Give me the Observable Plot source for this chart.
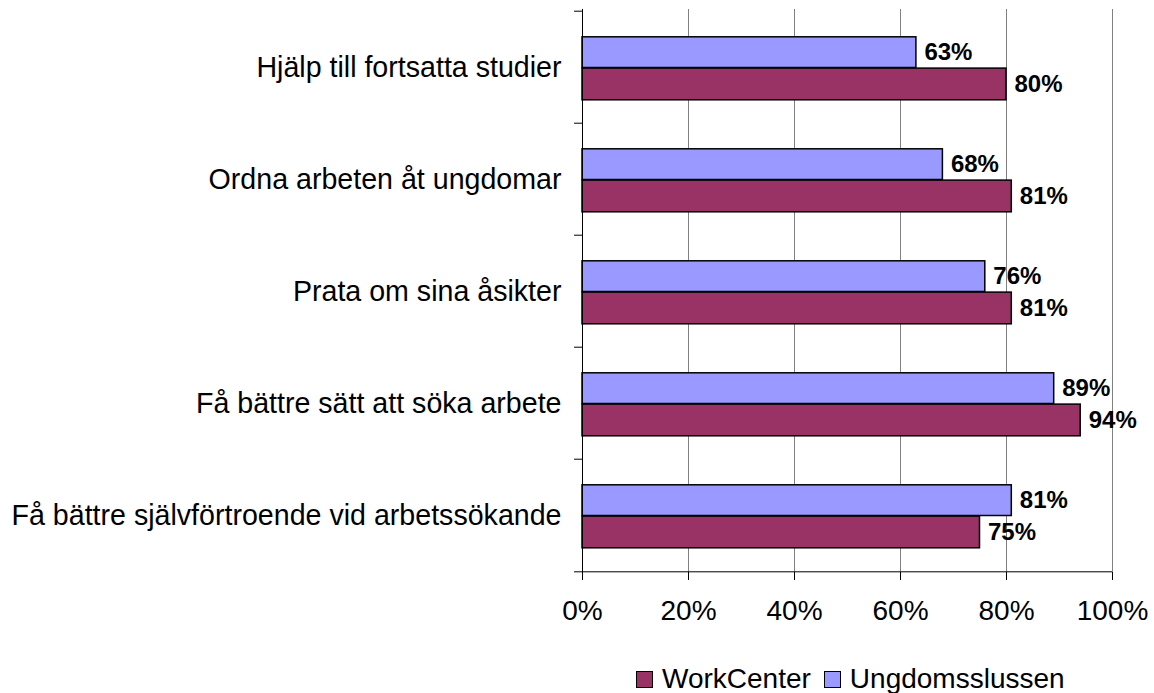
<!DOCTYPE html>
<html>
<head>
<meta charset="utf-8">
<script src="https://cdn.jsdelivr.net/npm/d3@7"></script>
<script src="https://cdn.jsdelivr.net/npm/@observablehq/plot@0.6"></script>
<style>
  html, body { margin: 0; padding: 0; background: #fff; }
  body { width: 1154px; height: 693px; position: relative; overflow: hidden; font-family: "Liberation Sans", Arial, sans-serif; }
  #legend { position: absolute; top: 663px; left: 636px; display: flex; align-items: center; font-size: 28px; white-space: nowrap; color: #000; }
  .sw { width: 15px; height: 15px; border: 1.5px solid #000; display: inline-block; margin-right: 9px; }
  .item { display: flex; align-items: center; margin-right: 13px; }
</style>
</head>
<body>
<div id="chart"></div>
<div id="legend"></div>
<script>
const categories = [
  "Hjälp till fortsatta studier",
  "Ordna arbeten åt ungdomar",
  "Prata om sina åsikter",
  "Få bättre sätt att söka arbete",
  "Få bättre självförtroende vid arbetssökande"
];
const seriesNames = ["WorkCenter", "Ungdomsslussen"];
const workCenter = [80, 81, 81, 94, 75];
const ungdomsslussen = [63, 68, 76, 89, 81];
const xTicks = [0, 0.2, 0.4, 0.6, 0.8, 1];
const colors = {"WorkCenter": "#993366", "Ungdomsslussen": "#9999FF"};

const rowsU = categories.map((c, i) => ({category: c, series: "Ungdomsslussen", value: ungdomsslussen[i]}));
const rowsW = categories.map((c, i) => ({category: c, series: "WorkCenter", value: workCenter[i]}));

const W = 1154, H = 640, mt = 9, mb = 68, ml = 582, mr = 42;
const step = (H - mt - mb) / categories.length;
const half = step / 2;
const font = "'Liberation Sans', Arial, sans-serif";

const chart = Plot.plot({
  width: W, height: H,
  marginTop: mt, marginBottom: mb, marginLeft: ml, marginRight: mr,
  style: {fontFamily: font, fontSize: "28px", color: "#000", background: "#fff"},
  x: {domain: [0, 1]},
  y: {domain: categories, padding: 0},
  marks: [
    Plot.gridX(xTicks.slice(1), {stroke: "#808080", strokeOpacity: 1, strokeWidth: 1}),
    Plot.barX(rowsU, {x: d => d.value / 100, y: "category", fill: colors["Ungdomsslussen"], stroke: "#000", strokeWidth: 1.5, insetTop: 25.8, insetBottom: step - 57.1}),
    Plot.barX(rowsW, {x: d => d.value / 100, y: "category", fill: colors["WorkCenter"], stroke: "#000", strokeWidth: 1.5, insetTop: 57.1, insetBottom: step - 89.4}),
    Plot.text(rowsU, {x: d => d.value / 100, y: "category", text: d => d.value + "%", dx: 8, dy: (25.8 + 57.1) / 2 - half, textAnchor: "start", fontWeight: "bold", fontSize: 24, fill: "#000"}),
    Plot.text(rowsW, {x: d => d.value / 100, y: "category", text: d => d.value + "%", dx: 8, dy: (57.1 + 89.4) / 2 - half, textAnchor: "start", fontWeight: "bold", fontSize: 24, fill: "#000"}),
    Plot.ruleX([0], {stroke: "#000", strokeWidth: 1}),
    Plot.ruleY(categories, {y: d => d, dy: -half, x1: -8 / 530, x2: 0, stroke: "#000"}),
    Plot.ruleY([categories[categories.length - 1]], {y: d => d, dy: half, x1: -8 / 530, x2: 1, stroke: "#000"}),
    Plot.axisX(xTicks, {tickFormat: d3.format(".0%"), tickSize: 8, tickPadding: 20, fontSize: 28, label: null}),
    Plot.axisY({tickSize: 0, tickPadding: 21, fontSize: 28.6, label: null})
  ]
});
document.getElementById("chart").appendChild(chart);

const legend = document.getElementById("legend");
seriesNames.forEach(s => {
  const it = document.createElement("span");
  it.className = "item";
  const sw = document.createElement("span");
  sw.className = "sw";
  sw.style.background = colors[s];
  it.appendChild(sw);
  it.appendChild(document.createTextNode(s));
  legend.appendChild(it);
});
</script>
</body>
</html>
